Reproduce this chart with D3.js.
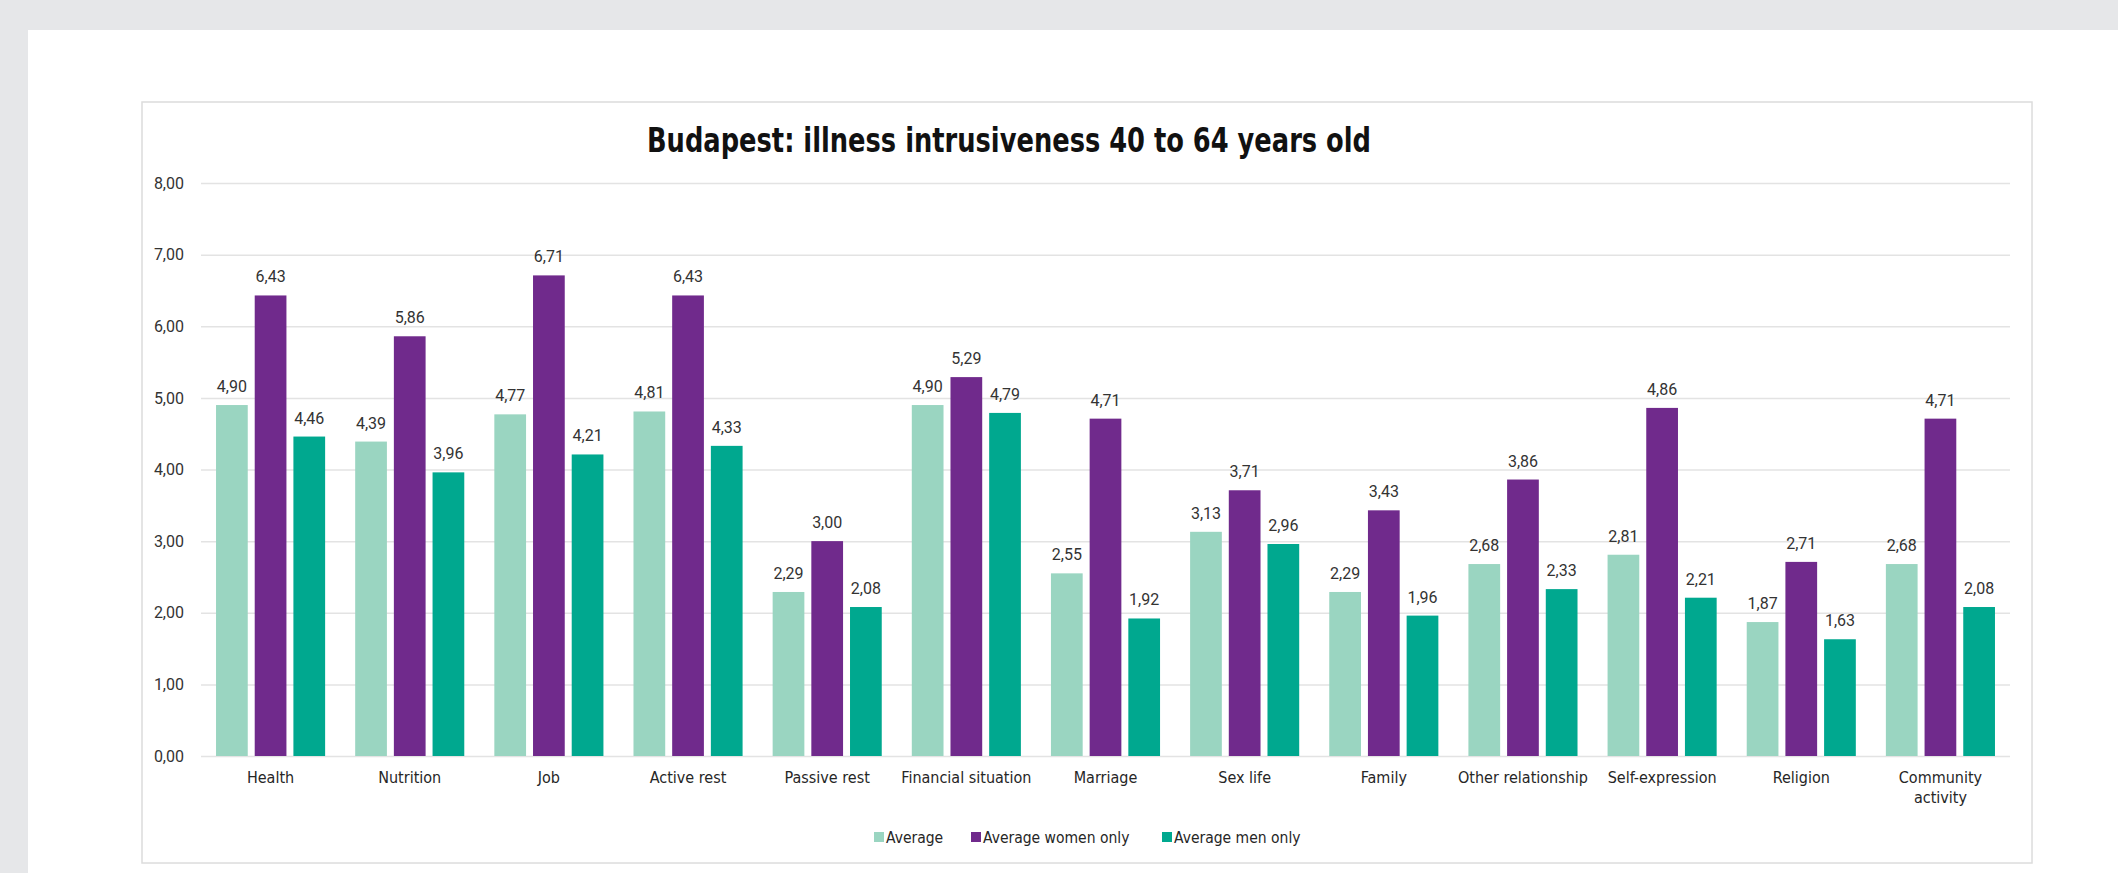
<!DOCTYPE html>
<html>
<head>
<meta charset="utf-8">
<script src="https://cdn.jsdelivr.net/npm/d3@7/dist/d3.min.js"></script>
<style>
  html, body { margin: 0; padding: 0; background: #e6e7e9; }
  svg { display: block; }
</style>
</head>
<body>
<svg id="chart" width="2118" height="873"></svg>
<script>
const categories = ["Health", "Nutrition", "Job", "Active rest", "Passive rest", "Financial situation",
  "Marriage", "Sex life", "Family", "Other relationship", "Self-expression", "Religion", "Community activity"];
const tickLines = [["Health"], ["Nutrition"], ["Job"], ["Active rest"], ["Passive rest"], ["Financial situation"],
  ["Marriage"], ["Sex life"], ["Family"], ["Other relationship"], ["Self-expression"], ["Religion"], ["Community", "activity"]];
const seriesNames = ["Average", "Average women only", "Average men only"];
const average = [4.90, 4.39, 4.77, 4.81, 2.29, 4.90, 2.55, 3.13, 2.29, 2.68, 2.81, 1.87, 2.68];
const women   = [6.43, 5.86, 6.71, 6.43, 3.00, 5.29, 4.71, 3.71, 3.43, 3.86, 4.86, 2.71, 4.71];
const men     = [4.46, 3.96, 4.21, 4.33, 2.08, 4.79, 1.92, 2.96, 1.96, 2.33, 2.21, 1.63, 2.08];
const yTicks = [0, 1, 2, 3, 4, 5, 6, 7, 8];
const titleText = "Budapest: illness intrusiveness 40 to 64 years old";

const colors = ["#9ad5c1", "#702a8c", "#00a88f"];
const seriesValues = [average, women, men];

const condensed = "'Liberation Sans Narrow', 'DejaVu Sans Condensed', 'Roboto Condensed', 'Open Sans Condensed', sans-serif";
const numFont = "Roboto, 'Open Sans', sans-serif";

const svg = d3.select("#chart");
const W = 2118, H = 873;

// white panel
svg.append("rect").attr("x", 28).attr("y", 30).attr("width", W - 28).attr("height", H - 30).attr("fill", "#ffffff");
// chart frame
svg.append("rect").attr("x", 142).attr("y", 102).attr("width", 2032 - 142).attr("height", 863 - 102)
  .attr("fill", "#ffffff").attr("stroke", "#dcdcdc").attr("stroke-width", 1.5);

const plot = { left: 201, right: 2010, top: 183, bottom: 756 };

const x0 = d3.scaleBand().domain(categories).range([plot.left, plot.right]).paddingInner(0.216).paddingOuter(0.108);
const x1 = d3.scaleBand().domain(seriesNames).range([0, x0.bandwidth()]).paddingInner(0.18);
const y = d3.scaleLinear().domain([0, 8]).range([plot.bottom, plot.top]);

const fmt = v => d3.format(".2f")(v).replace(".", ",");

// grid + y axis
const yAxis = d3.axisLeft(y).tickValues(yTicks).tickSize(-(plot.right - plot.left)).tickPadding(17).tickFormat(fmt);
const gy = svg.append("g").attr("transform", `translate(${plot.left},0)`).call(yAxis);
gy.select(".domain").remove();
gy.selectAll(".tick line").attr("stroke", "#e3e3e3").attr("stroke-width", 1.5);
gy.selectAll(".tick text").attr("font-family", numFont).attr("font-size", 16).attr("fill", "#333333");

// bars
const groups = svg.append("g").selectAll("g").data(categories).join("g")
  .attr("transform", d => `translate(${x0(d)},0)`);

groups.each(function(cat, ci) {
  const g = d3.select(this);
  seriesNames.forEach((s, si) => {
    const v = seriesValues[si][ci];
    g.append("rect")
      .attr("x", x1(s)).attr("y", y(v))
      .attr("width", x1.bandwidth()).attr("height", y(0) - y(v))
      .attr("fill", colors[si]);
    g.append("text")
      .attr("x", x1(s) + x1.bandwidth() / 2).attr("y", y(v) - 13)
      .attr("text-anchor", "middle")
      .attr("font-family", numFont).attr("font-size", 16).attr("fill", "#333333")
      .text(fmt(v));
  });
});

// x axis labels
const xl = svg.append("g").selectAll("text").data(categories).join("text")
  .attr("x", d => x0(d) + x0.bandwidth() / 2)
  .attr("y", 783)
  .attr("text-anchor", "middle")
  .attr("font-family", condensed).attr("font-size", 16).attr("fill", "#262626");
xl.each(function(d, i) {
  const t = d3.select(this);
  tickLines[i].forEach((line, li) => {
    t.append("tspan").attr("x", x0(d) + x0.bandwidth() / 2).attr("dy", li === 0 ? 0 : 20).text(line);
  });
});

// title
svg.append("text").attr("x", 1009).attr("y", 152).attr("text-anchor", "middle")
  .attr("font-family", condensed).attr("font-weight", "bold").attr("font-size", 34).attr("fill", "#111111")
  .attr("textLength", 724).attr("lengthAdjust", "spacingAndGlyphs")
  .text(titleText);

// legend
const legendX = [874, 971, 1162];
const lg = svg.append("g").selectAll("g").data(seriesNames).join("g")
  .attr("transform", (d, i) => `translate(${legendX[i]},837)`);
lg.append("rect").attr("x", 0).attr("y", -5).attr("width", 10).attr("height", 10).attr("fill", (d, i) => colors[i]);
lg.append("text").attr("x", 12).attr("y", 5.5).attr("font-family", condensed).attr("font-size", 15.5).attr("fill", "#262626")
  .text(d => d);
</script>
</body>
</html>
